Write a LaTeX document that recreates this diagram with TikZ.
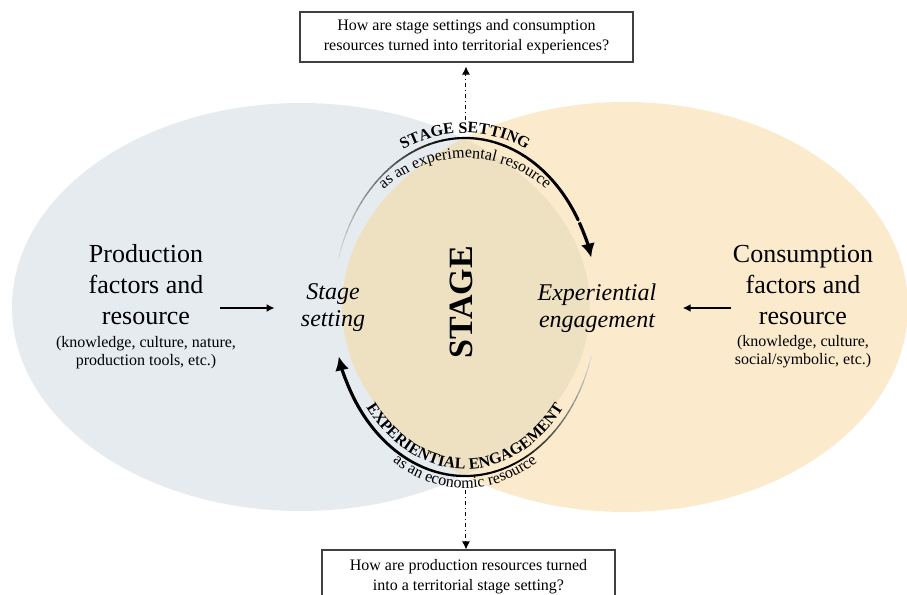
\documentclass[tikz,border=0pt]{standalone}
\usepackage{fontspec}
\setmainfont{Liberation Serif}
\usepackage{tikz}
\usetikzlibrary{arrows.meta}
\usetikzlibrary{decorations.text}
\usetikzlibrary{positioning}
\definecolor{prodblue}{RGB}{230,235,240}
\definecolor{consbeige}{RGB}{251,235,204}
\definecolor{stagetan}{RGB}{237,225,194}
\tikzstyle{question}=[rectangle,draw=black!75,line width=0.6pt,fill=white,align=center,inner sep=0mm,font=\fontsize{8}{10}\selectfont]
\tikzstyle{factor}=[align=center,inner sep=0mm,font=\fontsize{13}{15.5}\selectfont]
\tikzstyle{note}=[align=center,inner sep=0mm,font=\fontsize{8}{9}\selectfont]
\tikzstyle{pole}=[align=center,inner sep=0mm,font=\fontsize{12}{13.5}\selectfont\itshape]
\tikzstyle{arrow}=[-{Latex[length=4pt,width=4pt]},line width=0.8pt]
\tikzstyle{query}=[-{Latex[length=4pt,width=4pt]},line width=0.5pt,dash pattern=on 2pt off 1.5pt on 0.5pt off 1.5pt]
\tikzstyle{bigarrow}=[-{Latex[length=7pt,width=7pt]},line width=1.6pt]
\tikzstyle{arctext}=[decorate]

\begin{document}
\begin{tikzpicture}[x=0.5pt,y=0.5pt]
      \useasboundingbox (-465,-288) rectangle (442,307);
      % the two fields and the stage where they meet
      \fill[prodblue] (-164,0) ellipse [x radius=144.5pt,y radius=102pt];
      \fill[consbeige] (160,0) ellipse [x radius=141.5pt,y radius=102.5pt];
      \begin{scope}
        \clip (-164,0) ellipse [x radius=144.5pt,y radius=102pt];
        \fill[stagetan] (160,0) ellipse [x radius=141.5pt,y radius=102.5pt];
      \end{scope}
      \coordinate (hub) at (0,0);
      \node[question,minimum width=166.5pt,minimum height=25pt] at (1.5,270) (topq) {How are stage settings and consumption\\resources turned into territorial experiences?};
      \node[question,minimum width=146.5pt,minimum height=27pt] at (3.5,-270) (botq) {How are production resources turned\\into a territorial stage setting?};
      \node[factor] at (-319,22) (prod) {Production\\factors and\\resource};
      \node[note,below=5pt of prod] (prodnote) {(knowledge, culture, nature,\\production tools, etc.)};
      \node[factor] at (338,22) (cons) {Consumption\\factors and\\resource};
      \node[note,below=5pt of cons] (consnote) {(knowledge, culture,\\social/symbolic, etc.)};
      \node[pole] at (-132,-1) (stageset) {Stage\\setting};
      \node[pole] at (132,-1) (expeng) {Experiential\\engagement};
      \node[rotate=90,inner sep=0mm,font=\fontsize{17}{17}\selectfont\bfseries] at (-3.5,4.5) (stage) {STAGE};
      \draw[arrow] ([xshift=8pt]prod.east |- stageset.west) -- ([xshift=-13pt]stageset.west);
      \draw[arrow] ([xshift=-1pt]cons.west |- expeng.east) -- ([xshift=13pt]expeng.east);
      % questions
      \coordinate (qup) at (1,187);
      \coordinate (qdown) at (1,-183);
      \draw[query,shorten >=2pt] (qup) -- (qup |- topq.south);
      \draw[query] (qdown) -- (qdown |- botq.north);
      % top loop, fading in from the left
      \foreach \a in {163,160,...,33} {
        \pgfmathsetmacro\b{\a-3}
        \pgfmathsetmacro\d{min(100,15+85*(163-\a)/65)}
        \pgfmathsetmacro\w{0.5+1.1*(163-\a)/133}
        \draw[draw=black!\d,line width=\w pt,line cap=round] (\a:66pt and 84.5pt) arc[start angle=\a,end angle=\b,x radius=66pt,y radius=84.5pt];
      }
      \draw[bigarrow] (30:66pt and 84.5pt) arc[start angle=30,end angle=17,x radius=66pt,y radius=84.5pt];
      % bottom loop, fading in from the right
      \foreach \a in {343,340,...,214} {
        \pgfmathsetmacro\b{\a-3}
        \pgfmathsetmacro\d{min(100,15+85*(343-\a)/50)}
        \pgfmathsetmacro\w{0.5+1.1*(343-\a)/129}
        \draw[draw=black!\d,line width=\w pt,line cap=round] (\a:66pt and 84.5pt) arc[start angle=\a,end angle=\b,x radius=66pt,y radius=84.5pt];
      }
      \draw[bigarrow] (211:66pt and 84.5pt) arc[start angle=211,end angle=197,x radius=66pt,y radius=84.5pt];
      % labels along the loops
      \path[arctext,decoration={text along path,text align=center,text={|\fontsize{8}{8}\selectfont\bfseries|STAGE SETTING}}] (150:72pt and 87pt) arc[start angle=150,end angle=30,x radius=72pt,y radius=87pt];
      \path[arctext,decoration={text along path,text align=center,text={|\fontsize{8}{8}\selectfont|as an experimental resource}}] (150:66pt and 74.5pt) arc[start angle=150,end angle=30,x radius=66pt,y radius=74.5pt];
      \path[arctext,decoration={text along path,text align=center,text={|\fontsize{8}{8}\selectfont\bfseries|EXPERIENTIAL ENGAGEMENT}}] (200:63pt and 81pt) arc[start angle=200,end angle=340,x radius=63pt,y radius=81pt];
      \path[arctext,decoration={text along path,text align=center,text={|\fontsize{8}{8}\selectfont|as an economic resource}}] (210:70pt and 90.5pt) arc[start angle=210,end angle=330,x radius=70pt,y radius=90.5pt];
    \end{tikzpicture}
\end{document}
